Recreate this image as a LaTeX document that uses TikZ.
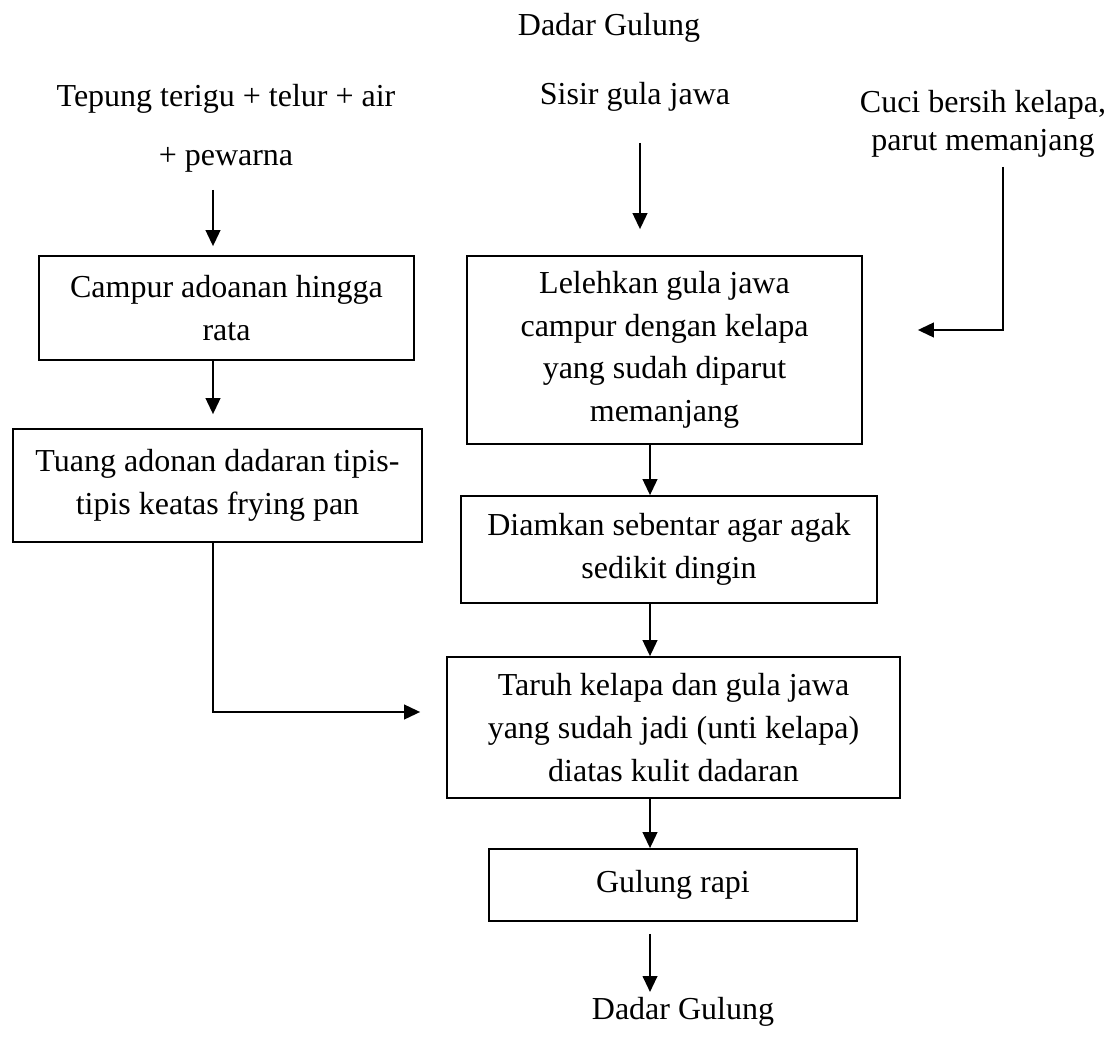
\documentclass[tikz,border=0pt]{standalone}
\usepackage{fontspec}
\setmainfont{Liberation Serif}
\usetikzlibrary{arrows.meta, positioning}
\tikzstyle{box} = [rectangle, draw=black, line width=1.3pt, align=center, inner sep=0pt, font=\fontsize{24}{32}\selectfont]
\tikzstyle{txt} = [align=center, inner sep=0pt, font=\fontsize{24}{32}\selectfont]
\tikzstyle{arrow} = [line width=1.5pt, draw=black, -{Triangle[length=12pt,width=11pt]}]

\begin{document}
\begin{tikzpicture}[x=0.75pt, y=-0.75pt]
        \useasboundingbox (0,0) rectangle (1117,1048);

        % inputs
        \node (title) [txt] at (609,28) {Dadar Gulung};
        \node (in1) [txt] at (226,128) {Tepung terigu + telur + air\\[12pt]+ pewarna};
        \node (in2) [txt] at (635,97) {Sisir gula jawa};
        \node (in3) [txt, font=\fontsize{24}{29}\selectfont] at (983,124) {Cuci bersih kelapa,\\parut memanjang};

        % steps
        \node (b1) [box, minimum width=281.25pt, minimum height=78pt] at (226.5,308) {Campur adoanan hingga\\rata};
        \node (b2) [box, minimum width=306.75pt, minimum height=84.75pt] at (217.5,485.5) {Tuang adonan dadaran tipis-\\tipis keatas frying pan};
        \node (b3) [box, minimum width=296.25pt, minimum height=141pt] at (664.5,350) {Lelehkan gula jawa\\campur dengan kelapa\\yang sudah diparut\\memanjang};
        \node (b4) [box, minimum width=312pt, minimum height=80.25pt] at (669,549.5) {Diamkan sebentar agar agak\\sedikit dingin};
        \node (b5) [box, minimum width=339.75pt, minimum height=105.75pt] at (673.5,727.5) {Taruh kelapa dan gula jawa\\yang sudah jadi (unti kelapa)\\diatas kulit dadaran};
        \node (b6) [box, minimum width=276pt, minimum height=54pt] at (673,885) {Gulung rapi};
        \node (out) [txt] at (683,1012) {Dadar Gulung};

        \coordinate (colL) at (213,0);
        \coordinate (colM) at (650,0);
        \coordinate (s1) at (213,190);
        \coordinate (s2) at (640,143);
        \coordinate (s3) at (1003,167);
        \coordinate (j1) at (213,712);
        \coordinate (j2) at (1003,330);
        \coordinate (e1) at (650,992);

        % left column
        \draw[arrow] (s1) -- ([yshift=6.75pt]b1.north -| s1);
        \draw[arrow] (b1.south -| colL) -- ([yshift=10.5pt]b2.north -| colL);
        \draw[arrow] (b2.south -| colL) -- (j1) -- ([xshift=-19.5pt]b5.west |- j1);
        % right column
        \draw[arrow] (s2) -- ([yshift=19.5pt]b3.north -| s2);
        \draw[arrow] (s3) -- (j2) -- ([xshift=41.25pt]b3.east |- j2);
        \draw[arrow] (b3.south -| colM) -- (b4.north -| colM);
        \draw[arrow] (b4.south -| colM) -- (b5.north -| colM);
        \draw[arrow] (b5.south -| colM) -- (b6.north -| colM);
        \draw[arrow] ([yshift=-9pt]b6.south -| colM) -- (e1);

\end{tikzpicture}
\end{document}
